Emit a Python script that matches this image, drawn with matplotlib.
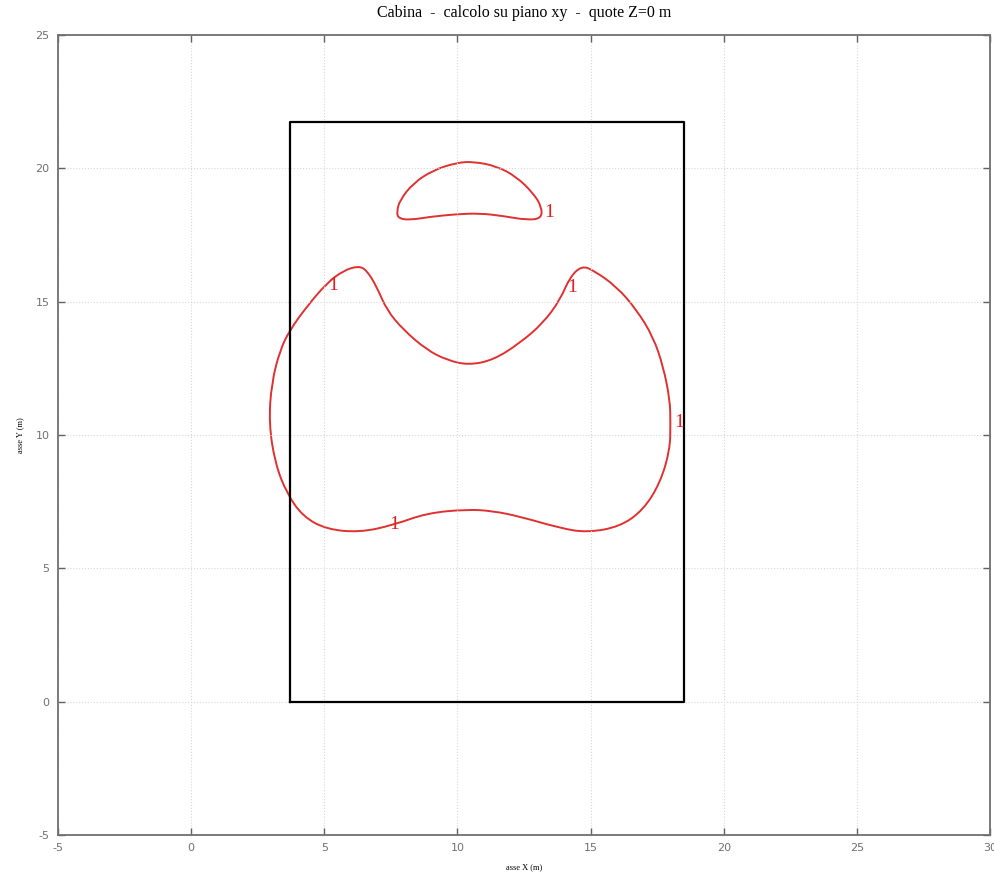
import matplotlib
matplotlib.use("Agg")
import matplotlib.pyplot as plt
from matplotlib.path import Path
from matplotlib.patches import PathPatch
import numpy as np

# building outline (m)
cab_x = [3.7, 18.5, 18.5, 3.7, 3.7]
cab_y = [0.0, 0.0, 21.75, 21.75, 0.0]

# iso-line "1", big lobe
big_x = [6.28, 6.59, 6.97, 7.34, 7.97, 8.85, 9.60, 10.41, 11.35, 12.35, 13.22, 13.85,
         14.23, 14.67, 15.10, 15.98, 16.73, 17.35, 17.73, 17.98, 18.00, 17.98, 17.61,
         16.98, 16.10, 14.85, 13.85, 12.35, 11.33, 10.35, 8.85, 7.58, 6.34, 5.09, 4.20,
         3.59, 3.15, 2.92, 3.02, 3.34, 3.71, 4.34, 5.09, 5.71]
big_y = [16.34, 16.18, 15.56, 14.69, 13.94, 13.19, 12.81, 12.62, 12.81, 13.45, 14.20, 15.06,
         15.93, 16.34, 16.18, 15.56, 14.69, 13.68, 12.56, 11.31, 10.45, 9.44, 8.20,
         7.19, 6.56, 6.34, 6.51, 6.94, 7.15, 7.21, 7.07, 6.62, 6.35, 6.46, 6.94,
         7.81, 8.95, 10.45, 11.95, 13.19, 13.94, 14.81, 15.69, 16.16]

# iso-line "1", small lobe
small_x = [7.72, 7.84, 8.34, 9.09, 9.97, 10.60, 11.47, 12.22, 12.85, 13.16, 13.16,
           12.60, 11.72, 10.85, 9.97, 8.97, 8.22, 7.78]
small_y = [18.37, 18.81, 19.44, 19.93, 20.21, 20.25, 20.08, 19.68, 19.06, 18.56, 18.12,
           18.06, 18.21, 18.31, 18.28, 18.18, 18.06, 18.12]

# label positions
lab_x = [13.44, 5.33, 14.30, 18.32, 7.62]
lab_y = [18.36, 15.62, 15.52, 10.45, 6.66]

xticks = [-5, 0, 5, 10, 15, 20, 25, 30]
yticks = [-5, 0, 5, 10, 15, 20, 25]


def closed_curve(xs, ys):
    # smooth closed path: quadratic beziers through the mid points
    p = np.column_stack([xs, ys])
    n = len(p)
    mid = (p + np.roll(p, -1, axis=0)) / 2.0
    verts = [mid[-1]]
    codes = [Path.MOVETO]
    for i in range(n):
        verts += [p[i], mid[i]]
        codes += [Path.CURVE3, Path.CURVE3]
    return Path(verts, codes)


plt.rcParams['axes.unicode_minus'] = False

fig = plt.figure(figsize=(9.95, 8.73), dpi=100)
ax = fig.add_axes([0.0583, 0.0435, 0.9367, 0.9165])

ax.plot(cab_x, cab_y, color='black', linewidth=1.6)
for xs, ys in [(big_x, big_y), (small_x, small_y)]:
    ax.add_patch(PathPatch(closed_curve(xs, ys), facecolor='none',
                           edgecolor='#e03030', linewidth=1.4))
for xx, yy in zip(lab_x, lab_y):
    ax.text(xx, yy, '1', color='#e02020', fontsize=14, family='Liberation Serif',
            ha='center', va='center')

ax.set_xlim(-5, 30)
ax.set_ylim(-5, 25)
ax.set_xticks(xticks)
ax.set_yticks(yticks)
ax.grid(True, color='#d8d8d8', linestyle=':', linewidth=0.8)
ax.tick_params(direction='in', top=True, right=True, length=5, width=1,
               color='#606060', labelsize=8, labelcolor='#707070', pad=6)
for s in ax.spines.values():
    s.set_color('#707070')
    s.set_linewidth(1.3)

ax.set_title('Cabina  -  calcolo su piano xy  -  quote Z=0 m', fontsize=11.5,
             family='Liberation Serif', pad=13)
ax.set_xlabel('asse X (m)', fontsize=6, family='Liberation Serif', labelpad=7)
ax.set_ylabel('asse Y (m)', fontsize=6, family='Liberation Serif', labelpad=8)

fig.savefig('out.png', dpi=100)
